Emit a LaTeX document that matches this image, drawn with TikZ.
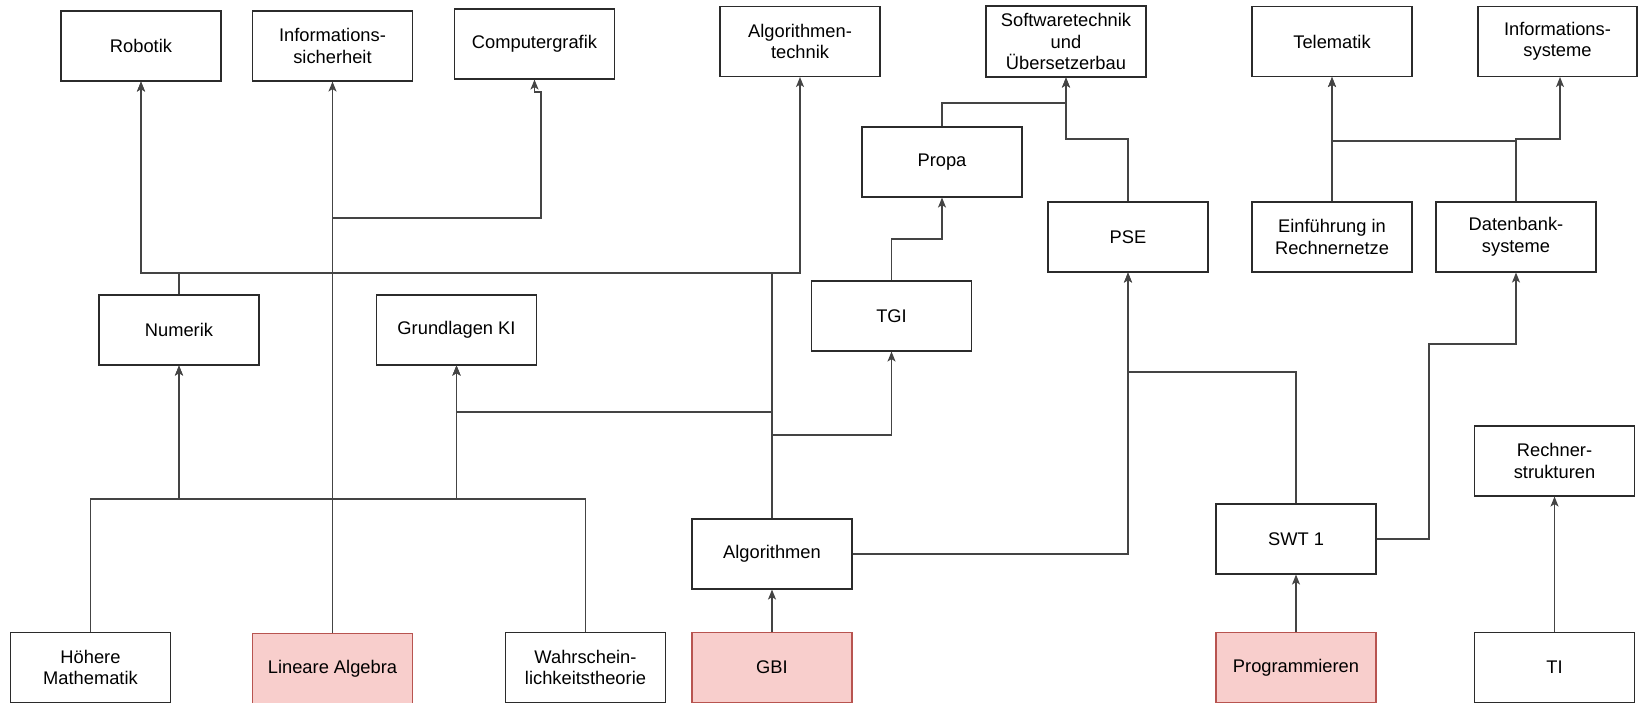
\documentclass[tikz,border=0pt]{standalone}
\usepackage{fontspec}
\setmainfont{Liberation Sans}
\usetikzlibrary{arrows.meta}
\definecolor{boxline}{HTML}{2B2B2B}
\definecolor{wireline}{HTML}{444444}
\definecolor{hlfill}{HTML}{F8CECC}
\definecolor{hlline}{HTML}{B85450}
\begin{document}
\begin{tikzpicture}[x=1pt,y=-1pt,
  course/.style={draw=boxline,line width=1.1pt,fill=white,minimum width=160pt,minimum height=70pt,
    inner sep=0pt,align=center,font=\fontsize{18.3}{21.5}\selectfont},
  entry/.style={course,draw=hlline,fill=hlfill},
  wire/.style={draw=wireline,line width=1.3pt,-{Stealth[length=10pt,width=8pt,inset=2.5pt]}}]
\useasboundingbox (0,0) rectangle (1638,703);

% top row
\node[course] (rob)  at (141,46)    {Robotik};
\node[course] (isec) at (332.5,46)  {Informations-\\sicherheit};
\node[course] (cg)   at (534.5,44)  {Computergrafik};
\node[course] (algt) at (800,41.5)  {Algorithmen-\\technik};
\node[course,minimum height=71pt] (swub) at (1066,41.5) {Softwaretechnik\\und\\Übersetzerbau};
\node[course] (tele) at (1332,41.5) {Telematik};
\node[course,minimum width=159pt] (isys) at (1557.5,41.5) {Informations-\\systeme};

% middle rows
\node[course] (propa) at (942,162)   {Propa};
\node[course] (pse)   at (1128,237)  {PSE};
\node[course] (ein)   at (1332,237)  {Einführung in\\Rechnernetze};
\node[course] (db)    at (1516,237)  {Datenbank-\\systeme};
\node[course] (num)   at (179,330)   {Numerik};
\node[course] (gki)   at (456.5,330) {Grundlagen KI};
\node[course] (tgi)   at (891.5,316) {TGI};
\node[course] (rs)    at (1554.5,461) {Rechner-\\strukturen};
\node[course] (alg)   at (772,554)   {Algorithmen};
\node[course] (swt)   at (1296,539)  {SWT 1};

% bottom row
\node[course] (hm)   at (90.5,667.5)  {Höhere\\Mathematik};
\node[entry]  (la)   at (332.5,668.5) {Lineare Algebra};
\node[course] (wahr) at (585.5,667.5) {Wahrschein-\\lichkeitstheorie};
\node[entry]  (gbi)  at (772,667.5)   {GBI};
\node[entry]  (prog) at (1296,667.5)  {Programmieren};
\node[course] (ti)   at (1554.5,667.5) {TI};

% routing levels and bends
\coordinate (lvlRob)   at (0,273);
\coordinate (lvlGki)   at (0,412);
\coordinate (lvlTgi)   at (0,435);
\coordinate (lvlMath)  at (0,499);
\coordinate (lvlPropa) at (0,239);
\coordinate (lvlSwA)   at (0,103);
\coordinate (lvlSwB)   at (0,139);
\coordinate (lvlPse)   at (0,372);
\coordinate (lvlTele)  at (0,141);
\coordinate (lvlIsys)  at (0,139);
\coordinate (cgBend)   at (541,218);
\coordinate (cgJog)    at (541,92);
\coordinate (dbBend)   at (1429,344);

% mathematics
\draw[wire] (hm.north) -- (hm.north |- lvlMath) -| (num.south);
\draw[wire] (hm.north) -- (hm.north |- lvlMath) -| (gki.south);
\draw[wire] (wahr.north) -- (wahr.north |- lvlMath) -| (num.south);
\draw[wire] (wahr.north) -- (wahr.north |- lvlMath) -| (gki.south);
\draw[wire] (num.north) -- (num.north |- lvlRob) -| (rob.south);
\draw[wire] (la.north) -- (isec.south);
\draw[wire] (la.north) |- (cgBend) -- (cgJog) -| (cg.south);

% algorithms
\draw[wire] (gbi.north) -- (alg.south);
\draw[wire] (alg.north) -- (alg.north |- lvlRob) -| (rob.south);
\draw[wire] (alg.north) -- (alg.north |- lvlRob) -| (algt.south);
\draw[wire] (alg.north) -- (alg.north |- lvlGki) -| (gki.south);
\draw[wire] (alg.north) -- (alg.north |- lvlTgi) -| (tgi.south);
\draw[wire] (alg.east) -| (pse.south);
\draw[wire] (tgi.north) -- (tgi.north |- lvlPropa) -| (propa.south);
\draw[wire] (propa.north) -- (propa.north |- lvlSwA) -| (swub.south);
\draw[wire] (pse.north) -- (pse.north |- lvlSwB) -| (swub.south);

% software engineering and systems
\draw[wire] (prog.north) -- (swt.south);
\draw[wire] (swt.north) -- (swt.north |- lvlPse) -| (pse.south);
\draw[wire] (swt.east) -| (dbBend) -| (db.south);
\draw[wire] (ein.north) -- (tele.south);
\draw[wire] (db.north) -- (db.north |- lvlTele) -| (tele.south);
\draw[wire] (db.north) -- (db.north |- lvlIsys) -| ([xshift=2.5pt]isys.south);
\draw[wire] (ti.north) -- (rs.south);
\end{tikzpicture}
\end{document}
